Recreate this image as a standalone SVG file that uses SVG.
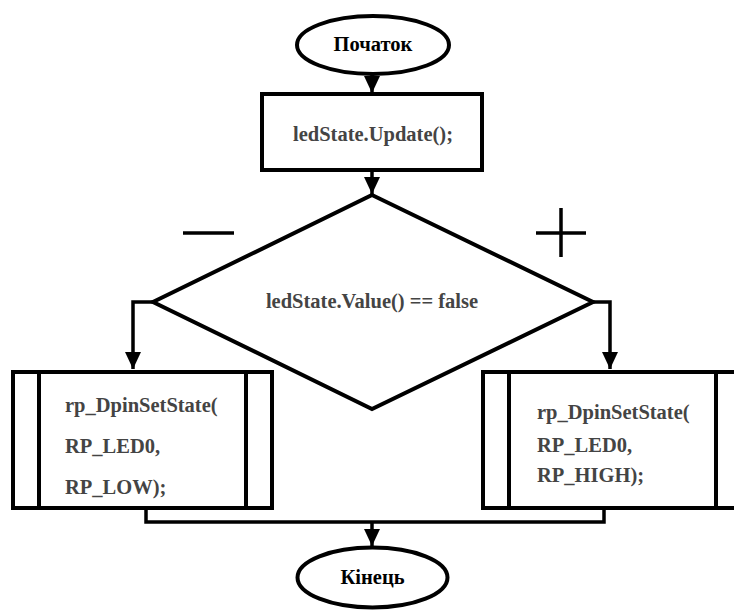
<svg xmlns="http://www.w3.org/2000/svg" width="734" height="610" viewBox="0 0 734 610">
<style>
.sh{fill:#fff;stroke:#000;stroke-width:4}
.ln{fill:none;stroke:#000;stroke-width:3.5}
text{font-family:'Liberation Serif','Times New Roman','DejaVu Serif',serif;font-weight:bold;font-size:20.5px}
.t{fill:#444}
.tb{fill:#000}
</style>
<defs>
<marker id="ar" markerWidth="16" markerHeight="18" refX="8" refY="17" orient="0" markerUnits="userSpaceOnUse">
<path d="M0,0 L16,0 L8,17 Z" fill="#000"/>
</marker>
</defs>
<rect width="734" height="610" fill="#fff"/>
<g id="connectors">
<line class="ln" x1="372" y1="74" x2="372" y2="93" marker-end="url(#ar)"/>
<line class="ln" x1="372" y1="171" x2="372" y2="194" marker-end="url(#ar)"/>
<polyline class="ln" points="153,302 133,302 133,369" marker-end="url(#ar)"/>
<polyline class="ln" points="593,302 610,302 610,369" marker-end="url(#ar)"/>
<polyline class="ln" points="146,509 146,522 604,522 604,509"/>
<line class="ln" x1="372" y1="522" x2="372" y2="546" marker-end="url(#ar)"/>
</g>
<g id="start">
<ellipse class="sh" cx="373" cy="45" rx="76" ry="29"/>
<text class="tb" x="373" y="51" text-anchor="middle" font-family="Liberation Serif, serif">Початок</text>
</g>
<g id="update">
<rect class="sh" x="262" y="94" width="220" height="76"/>
<text class="t" x="373" y="141" text-anchor="middle" font-family="Liberation Serif, serif">ledState.Update();</text>
</g>
<g id="decision">
<polygon class="sh" points="372,195 593,302 372,409 153,302"/>
<text class="t" x="372" y="308" text-anchor="middle" font-family="Liberation Serif, serif">ledState.Value() == false</text>
</g>
<g id="minus">
<line class="ln" x1="183" y1="233" x2="234" y2="233"/>
</g>
<g id="plus">
<line class="ln" x1="536" y1="233" x2="586" y2="233"/>
<line class="ln" x1="561" y1="208" x2="561" y2="257"/>
</g>
<g id="low">
<rect class="sh" x="13" y="372" width="259" height="136"/>
<line class="sh" x1="39" y1="372" x2="39" y2="508"/>
<line class="sh" x1="246" y1="372" x2="246" y2="508"/>
<text class="t" x="65" y="412" font-family="Liberation Serif, serif">rp_DpinSetState(</text>
<text class="t" x="65" y="453" font-family="Liberation Serif, serif">RP_LED0,</text>
<text class="t" x="65" y="494" font-family="Liberation Serif, serif">RP_LOW);</text>
</g>
<g id="high">
<rect class="sh" x="483" y="372" width="260" height="136"/>
<line class="sh" x1="509" y1="372" x2="509" y2="508"/>
<line class="sh" x1="716" y1="372" x2="716" y2="508"/>
<text class="t" x="537" y="419" font-family="Liberation Serif, serif">rp_DpinSetState(</text>
<text class="t" x="537" y="452" font-family="Liberation Serif, serif">RP_LED0,</text>
<text class="t" x="537" y="482" font-family="Liberation Serif, serif">RP_HIGH);</text>
</g>
<g id="end">
<ellipse class="sh" cx="372.5" cy="577.5" rx="75" ry="30"/>
<text class="tb" x="372.5" y="584" text-anchor="middle" font-family="Liberation Serif, serif">Кінець</text>
</g>
</svg>
